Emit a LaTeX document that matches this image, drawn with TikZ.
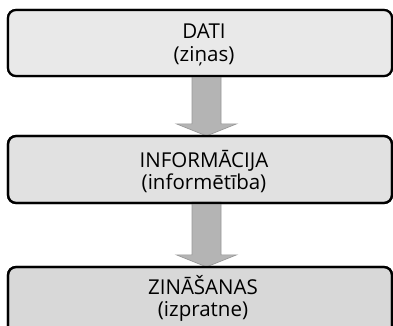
\documentclass[tikz,border=0pt]{standalone}
\usepackage{fontspec}
\setmainfont{Open Sans}
\usetikzlibrary{calc}
\definecolor{boxA}{HTML}{E9E9E9}
\definecolor{boxB}{HTML}{E1E1E1}
\definecolor{boxC}{HTML}{D8D8D8}
\definecolor{arrowfill}{HTML}{B4B4B4}
\definecolor{arrowline}{HTML}{999999}
\tikzset{
  stage/.style={draw=black, line width=2.2pt, rounded corners=8pt, inner sep=0pt,
    minimum width=384pt},
  caption/.style={anchor=base, inner sep=0pt, font=\fontsize{20.5}{24}\selectfont},
  bigarrow/.style={fill=arrowfill, draw=arrowline, line width=0.7pt,
    to path={let \p1=(\tikztostart), \p2=(\tikztotarget) in
      (\x1-14.5pt,\y1) -- (\x1-14.5pt,\y2+12pt) -- (\x1-30pt,\y2+12pt) -- (\x2,\y2)
      -- (\x1+30pt,\y2+12pt) -- (\x1+14.5pt,\y2+12pt) -- (\x1+14.5pt,\y1) -- cycle}}
}
\begin{document}
\begin{tikzpicture}[x=1pt,y=1pt]
\clip (0,0) rectangle (393,326);
\fill[white] (0,0) rectangle (393,326);
% axis of the arrows
\coordinate (ax) at (206.5,0);
% the three stages
\node[stage, fill=boxA, minimum height=66pt] (dati) at (200,283) {};
\node[stage, fill=boxB, minimum height=67pt] (info) at (200,156.5) {};
\node[stage, fill=boxC, minimum height=90pt] (zin) at (200,14) {};
\path (dati.south -| ax) ++(0,2) coordinate (s1);
\path (info.north -| ax) ++(0,-1) coordinate (t1);
\path (info.south -| ax) ++(0,2) coordinate (s2);
\path (zin.north -| ax) ++(0,-1) coordinate (t2);
% block arrows between the stages
\draw[bigarrow] (s1) to (t1);
\draw[bigarrow] (s2) to (t2);
% outlines again, over the arrow ends
\node[stage, fill=boxA, minimum height=66pt] at (dati) {};
\node[stage, minimum height=67pt] at (info) {};
\node[stage, minimum height=90pt] at (zin) {};
% captions
\node[caption] (l1) at (204,287.7) {DATI};
\node[caption] (l2) at (204,264.3) {(ziņas)};
\node[caption] (l3) at (204,158.7) {INFORMĀCIJA};
\node[caption] (l4) at (204,136) {(informētība)};
\node[caption] (l5) at (203,31) {ZINĀŠANAS};
\node[caption] (l6) at (203,9.3) {(izpratne)};
\end{tikzpicture}
\end{document}
